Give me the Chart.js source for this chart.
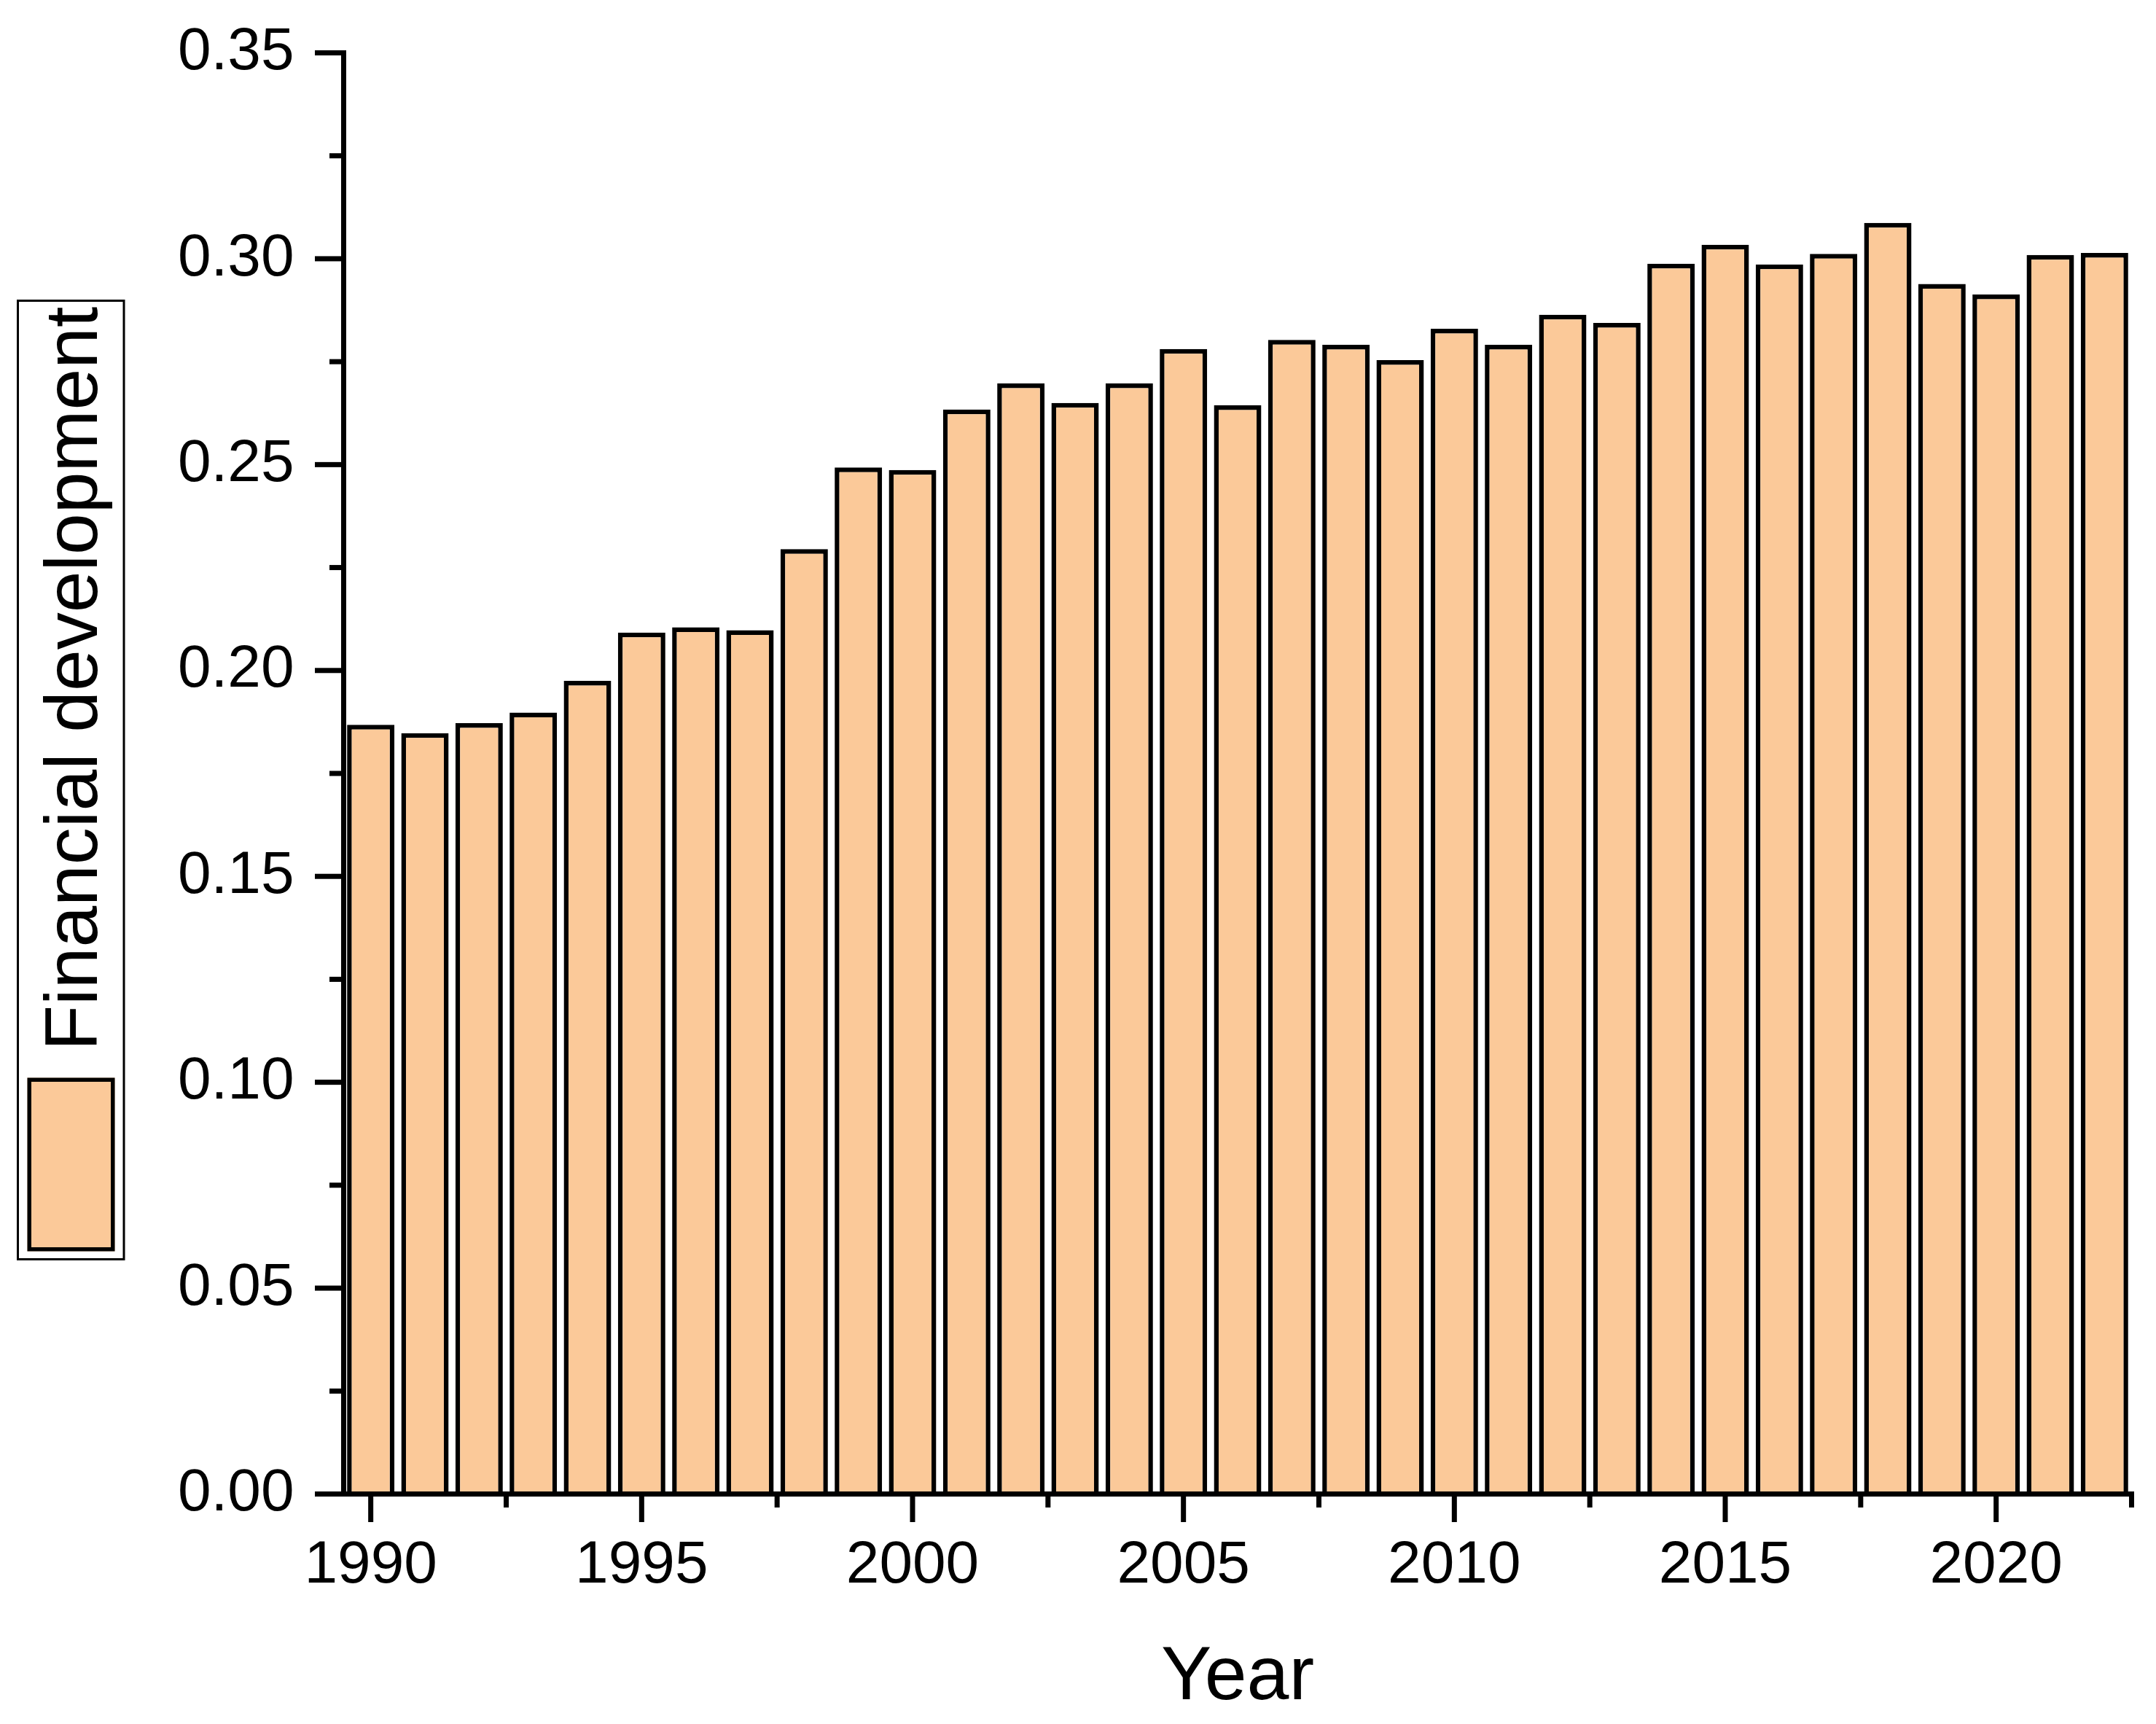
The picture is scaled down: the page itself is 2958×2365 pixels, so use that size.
<!DOCTYPE html>
<html><head><meta charset="utf-8">
<script src="https://cdn.jsdelivr.net/npm/chart.js@4.4.0/dist/chart.umd.min.js"></script>
<style>html,body{margin:0;padding:0;background:#fff;} canvas{display:block;}</style>
</head><body>
<canvas id="c" width="2958" height="2365"></canvas>
<script>
const years = ['1990','1991','1992','1993','1994','1995','1996','1997','1998','1999',
  '2000','2001','2002','2003','2004','2005','2006','2007','2008','2009',
  '2010','2011','2012','2013','2014','2015','2016','2017','2018','2019',
  '2020','2021','2022'];
const financialDevelopment = [0.1868,0.1848,0.1872,0.1898,0.1975,0.2092,0.2105,0.2098,0.2295,0.2493,
  0.2487,0.2634,0.2697,0.2650,0.2697,0.2781,0.2644,0.2803,0.2791,0.2754,
  0.2830,0.2791,0.2864,0.2844,0.2988,0.3034,0.2986,0.3012,0.3087,0.2939,
  0.2913,0.3009,0.3014];
const yMajorTicks = [0,0.05,0.10,0.15,0.20,0.25,0.30,0.35];
const yMinorTicks = [0.025,0.075,0.125,0.175,0.225,0.275,0.325];
const xMajorYears = [1990,1995,2000,2005,2010,2015,2020];
const xMinorYears = [1992.5,1997.5,2002.5,2007.5,2012.5,2017.5,2022.5];
const seriesLabel = 'Financial development';
const xTitle = 'Year';

const FONT = "'Liberation Sans', Arial, sans-serif";
const FILL = 'rgb(251,201,153)';
const AX = 7;

const axesPlugin = {
  id: 'axesPlugin',
  afterDatasetsDraw(chart) {
    const ctx = chart.ctx, xs = chart.scales.x, ys = chart.scales.y;
    const y0 = ys.getPixelForValue(0), yTop = ys.getPixelForValue(0.35);
    const xL = chart.chartArea.left;
    const firstYear = parseInt(years[0], 10);
    const xR = xs.getPixelForValue(2022.5 - firstYear);
    ctx.save();
    ctx.fillStyle = '#000';
    ctx.fillRect(xL - AX/2, yTop - AX/2, AX, y0 - yTop + AX);
    ctx.fillRect(xL - AX/2, y0 - AX/2, xR - xL + AX, AX);
    yMajorTicks.forEach(v => { const p = ys.getPixelForValue(v); ctx.fillRect(xL - AX/2 - 36, p - AX/2, 36 + AX/2, AX); });
    yMinorTicks.forEach(v => { const p = ys.getPixelForValue(v); ctx.fillRect(xL - AX/2 - 16, p - AX/2, 16 + AX/2, AX); });
    xMajorYears.forEach(v => { const p = xs.getPixelForValue(v - firstYear); ctx.fillRect(p - AX/2, y0, AX, AX/2 + 35); });
    xMinorYears.forEach(v => { const p = xs.getPixelForValue(v - firstYear); ctx.fillRect(p - AX/2, y0, AX, AX/2 + 15); });
    ctx.restore();
  },
  afterDraw(chart) {
    const ctx = chart.ctx;
    ctx.save();
    ctx.strokeStyle = '#000';
    ctx.lineWidth = 3;
    ctx.strokeRect(24.5, 412.5, 145.5, 1315);
    ctx.fillStyle = FILL;
    ctx.fillRect(37.5, 1478.5, 120, 238);
    ctx.lineWidth = 5.5;
    ctx.strokeRect(37.5 + 2.75, 1478.5 + 2.75, 120 - 5.5, 238 - 5.5);
    ctx.translate(133, 931);
    ctx.rotate(-Math.PI/2);
    ctx.fillStyle = '#000';
    ctx.font = "102px " + FONT;
    ctx.textAlign = 'center';
    ctx.textBaseline = 'alphabetic';
    ctx.fillText(seriesLabel, 0, 0);
    ctx.restore();
  }
};

new Chart(document.getElementById('c'), {
  type: 'bar',
  data: {
    labels: years,
    datasets: [{
      label: seriesLabel,
      data: financialDevelopment,
      backgroundColor: FILL,
      borderColor: '#000',
      borderWidth: 6.5,
      barPercentage: 0.875,
      categoryPercentage: 1.0
    }]
  },
  options: {
    responsive: false,
    devicePixelRatio: 1,
    animation: false,
    layout: { padding: { left: 0, right: 33.5, top: 72.5, bottom: 0 } },
    plugins: { legend: { display: false }, tooltip: { enabled: false } },
    scales: {
      x: {
        type: 'category',
        offset: true,
        grid: { display: false, drawTicks: false },
        border: { display: false },
        ticks: {
          autoSkip: false, maxRotation: 0, minRotation: 0,
          padding: 50, color: '#000',
          font: { family: FONT, size: 82 },
          callback: function(val, idx) { const y = parseInt(years[idx], 10); return xMajorYears.includes(y) ? years[idx] : ''; }
        },
        title: { display: true, text: xTitle, color: '#000', font: { family: FONT, size: 104 }, padding: { top: 0, bottom: 0 } },
        afterFit(scale) { scale.height = 315.5; scale.paddingLeft = 0; scale.paddingRight = 0; scale.paddingTop = 0; scale.paddingBottom = 0; }
      },
      y: {
        min: 0, max: 0.35,
        grid: { display: false, drawTicks: false },
        border: { display: false },
        afterBuildTicks(scale) { scale.ticks = yMajorTicks.map(v => ({ value: v })); },
        ticks: {
          padding: 68, color: '#000',
          font: { family: FONT, size: 82 },
          callback: v => Number(v).toFixed(2)
        },
        afterFit(scale) { scale.width = 471.5; scale.paddingTop = 0; scale.paddingBottom = 0; scale.paddingLeft = 0; scale.paddingRight = 0; }
      }
    }
  },
  plugins: [axesPlugin]
});
</script>
</body></html>
